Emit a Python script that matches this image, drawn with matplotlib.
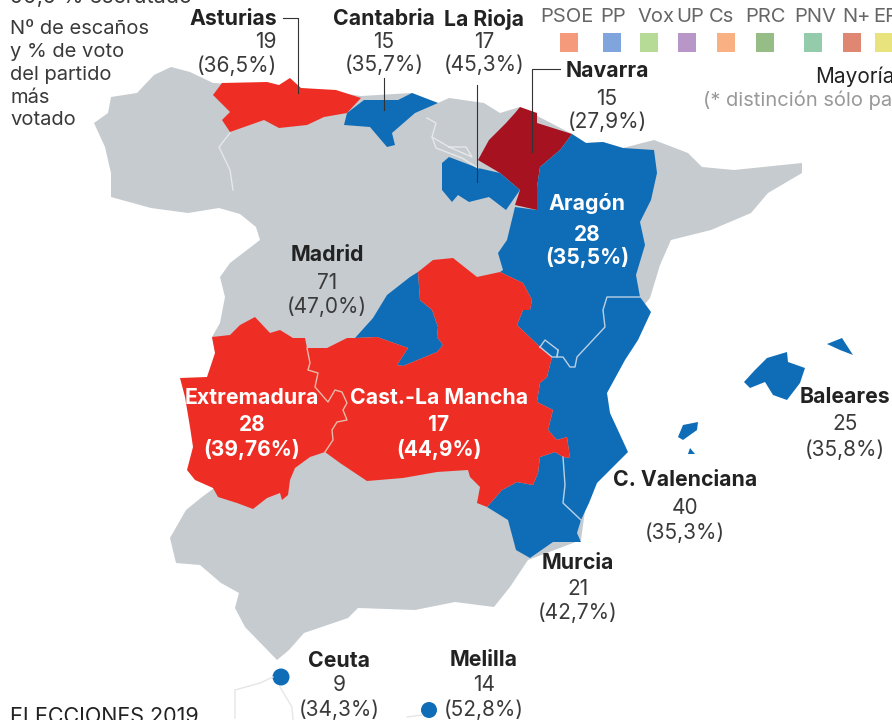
import matplotlib
matplotlib.use('Agg')
import matplotlib.pyplot as plt
from matplotlib.patches import Polygon, Ellipse, Rectangle

# Datos
regions = ['Asturias', 'Cantabria', 'La Rioja', 'Navarra', 'Aragón', 'Madrid', 'Extremadura',
           'Cast.-La Mancha', 'Baleares', 'C. Valenciana', 'Murcia', 'Ceuta', 'Melilla']
seats = ['19', '15', '17', '15', '28', '71', '28', '17', '25', '40', '21', '9', '14']
votes = ['(36,5%)', '(35,7%)', '(45,3%)', '(27,9%)', '(35,5%)', '(47,0%)', '(39,76%)',
         '(44,9%)', '(35,8%)', '(35,3%)', '(42,7%)', '(34,3%)', '(52,8%)']
parties = ['PSOE', 'PP', 'Vox', 'UP', 'Cs', 'PRC', 'PNV', 'N+', 'ERC']
party_colors = ['#F59A7B', '#7FA5DC', '#B5DB96', '#B896C8', '#F9B184', '#95BD85', '#94CBAB', '#E08773', '#E8E37D']
note_lines = ['Nº de escaños', 'y % de voto', 'del partido', 'más', 'votado']

# Contornos del mapa, en píxeles de la imagen
peninsula = [(171, 67), (190, 72), (213, 83), (300, 88), (361, 96), (412, 93), (438, 103), (449, 98), (484, 103),
             (500, 113), (520, 107), (572, 134), (586, 143), (603, 142), (623, 148), (654, 140), (688, 153),
             (702, 167), (734, 170), (802, 163), (802, 173), (768, 193), (751, 213), (711, 230), (671, 240),
             (660, 265), (650, 298), (640, 310), (600, 400), (581, 540), (528, 560), (510, 587), (494, 607),
             (455, 602), (415, 610), (358, 608), (348, 618), (304, 633), (289, 650), (277, 660), (245, 627),
             (235, 608), (239, 593), (221, 583), (200, 565), (176, 563), (170, 538), (186, 510), (202, 497),
             (225, 480), (225, 400), (212, 337), (220, 323), (225, 297), (220, 277), (230, 263), (260, 240),
             (256, 227), (240, 214), (219, 208), (188, 213), (151, 208), (111, 197), (111, 173), (105, 147),
             (94, 123), (108, 113), (111, 97), (137, 93), (154, 75)]
asturias = [(222, 83), (267, 82), (279, 85), (290, 78), (301, 88), (336, 90), (361, 98), (347, 113), (324, 117),
            (307, 125), (279, 128), (264, 120), (230, 132), (222, 120), (230, 112), (213, 95)]
cantabria = [(364, 100), (398, 100), (412, 93), (438, 103), (415, 113), (392, 133), (395, 145), (387, 147),
             (370, 127), (344, 125), (347, 113)]
navarra = [(520, 107), (537, 113), (537, 123), (572, 134), (560, 150), (540, 167), (537, 187), (537, 210),
           (515, 205), (520, 190), (500, 173), (478, 160), (489, 140), (506, 123), (515, 113)]
rioja = [(449, 157), (478, 168), (500, 173), (520, 190), (506, 210), (489, 197), (469, 202), (458, 195),
         (452, 202), (442, 190), (442, 163)]
aragon = [(572, 134), (586, 143), (603, 142), (623, 148), (654, 150), (657, 173), (651, 200), (640, 222),
          (645, 245), (636, 275), (640, 297), (607, 297), (603, 310), (605, 327), (577, 357), (575, 367),
          (570, 367), (563, 357), (557, 357), (558, 350), (545, 340), (540, 347), (517, 325), (523, 310),
          (530, 310), (532, 300), (523, 283), (500, 272), (503, 270), (498, 253), (507, 240), (515, 207),
          (537, 210), (537, 187), (540, 167), (560, 150)]
valencia = [(640, 297), (651, 312), (638, 340), (625, 360), (607, 393), (610, 413), (628, 452), (597, 483),
            (589, 503), (581, 520), (563, 503), (565, 485), (563, 457), (570, 458), (567, 437), (557, 440),
            (548, 430), (553, 410), (537, 402), (540, 383), (547, 377), (552, 357), (540, 347), (545, 340),
            (558, 350), (557, 357), (563, 357), (570, 367), (575, 367), (577, 357), (605, 327), (603, 310),
            (607, 297)]
murcia = [(487, 507), (502, 490), (517, 482), (533, 485), (538, 473), (540, 457), (555, 452), (563, 457),
          (565, 485), (563, 503), (581, 520), (577, 533), (581, 542), (553, 542), (530, 558), (516, 550),
          (508, 520)]
madrid = [(418, 272), (410, 277), (387, 295), (373, 318), (355, 338), (377, 337), (408, 348), (397, 365),
          (403, 366), (437, 352), (443, 345), (437, 337), (438, 327), (432, 310), (420, 300)]
clm = [(418, 272), (433, 260), (453, 258), (477, 277), (500, 272), (523, 283), (532, 300), (530, 310), (523, 310),
       (517, 325), (540, 347), (552, 357), (547, 377), (540, 383), (537, 402), (553, 410), (548, 430), (557, 440),
       (567, 437), (570, 458), (563, 457), (555, 452), (540, 457), (538, 473), (533, 485), (517, 482), (502, 490),
       (487, 507), (477, 503), (480, 487), (470, 477), (468, 470), (437, 472), (403, 478), (367, 481), (340, 463),
       (325, 452), (333, 440), (332, 430), (337, 422), (347, 420), (343, 410), (347, 403), (342, 392), (335, 390),
       (328, 402), (315, 387), (318, 373), (308, 370), (310, 363), (307, 348), (327, 348), (347, 338), (355, 338),
       (377, 337), (408, 348), (397, 365), (403, 366), (437, 352), (443, 345), (437, 337), (438, 327), (432, 310),
       (420, 300)]
extremadura = [(255, 317), (270, 333), (280, 330), (293, 338), (305, 338), (307, 348), (310, 363), (308, 370),
               (318, 373), (315, 387), (328, 402), (335, 390), (342, 392), (347, 403), (343, 410), (347, 420),
               (337, 422), (332, 430), (333, 440), (325, 452), (310, 457), (295, 468), (290, 480), (288, 495),
               (282, 500), (280, 493), (267, 498), (253, 509), (237, 503), (218, 497), (213, 488), (195, 480),
               (187, 470), (193, 447), (190, 427), (185, 397), (180, 378), (207, 377), (215, 353), (212, 337),
               (230, 335), (240, 325)]
mallorca = [(744, 382), (755, 370), (767, 358), (787, 352), (788, 362), (805, 368), (800, 383), (787, 400),
            (773, 395), (765, 382), (750, 388)]
menorca = [(827, 344), (842, 338), (853, 355), (840, 350)]
ibiza = [(678, 437), (683, 425), (698, 422), (697, 430), (683, 440)]
formentera = [(690, 448), (695, 454), (688, 454)]

# Fronteras interiores
border_ext_clm = extremadura[5:20]
border_val = valencia[-9:] + [(640, 297)]
border_rincon = [(540, 347), (545, 340), (558, 350), (557, 357), (552, 357), (540, 347)]
border_val_mur = [(563, 457), (565, 485), (563, 503), (581, 520)]
border_cyl = [(230, 133), (219, 147), (230, 170), (233, 190)]
border_pv = [(427, 118), (436, 123), (432, 137), (449, 147), (466, 147), (472, 157), (449, 147)]
border_alava = [(432, 137), (436, 148), (462, 158), (478, 168)]
morocco_a = [(235, 718), (235, 690), (260, 683), (273, 677)]
morocco_b = [(280, 687), (292, 707), (293, 720)]
morocco_c = [(407, 717), (422, 715)]

RED = '#EE2E24'
BLUE = '#0F6DB8'
DARK_RED = '#A61220'
GREY = '#C6CBCF'
TEXT = '#222222'
SOFT = '#3A3A3A'

plt.rcParams['font.family'] = ['Inter', 'DejaVu Sans']

fig = plt.figure(figsize=(8.92, 7.2), dpi=100)
ax = fig.add_axes([0, 0, 1, 1])
ax.set_xlim(0, 892)
ax.set_ylim(720, 0)
ax.axis('off')

ax.add_patch(Polygon(peninsula, closed=True, fc=GREY, ec='none'))
for shape, color in [(asturias, RED), (cantabria, BLUE), (navarra, DARK_RED), (rioja, BLUE), (aragon, BLUE),
                     (valencia, BLUE), (murcia, BLUE), (madrid, BLUE), (clm, RED), (extremadura, RED),
                     (mallorca, BLUE), (menorca, BLUE), (ibiza, BLUE), (formentera, BLUE)]:
    ax.add_patch(Polygon(shape, closed=True, fc=color, ec='none'))

for line, color in [(border_ext_clm, '#E8B9A8'), (border_val, '#B9D0E4'), (border_rincon, '#B9D0E4'),
                    (border_val_mur, '#B9D0E4'), (border_cyl, '#E6E8EA'), (border_pv, '#E6E8EA'),
                    (border_alava, '#E6E8EA'), (morocco_a, '#E4E6E8'), (morocco_b, '#E4E6E8'),
                    (morocco_c, '#E4E6E8')]:
    ax.plot([p[0] for p in line], [p[1] for p in line], color=color, lw=1.0)

ax.add_patch(Ellipse((281, 677), 17, 17, fc=BLUE, ec='none'))
ax.add_patch(Ellipse((429, 710), 16, 16, fc=BLUE, ec='none'))

# Líneas de las etiquetas
leaders = [[(283, 18), (298, 18), (298, 93)], [(384, 78), (384, 110)], [(477, 85), (477, 182)],
           [(560, 69), (532, 69), (532, 152)]]
for line in leaders:
    ax.plot([p[0] for p in line], [p[1] for p in line], color='#333333', lw=0.8)

# x, y del nombre, y escaños, y voto, alineación, color
label_layout = [
    (277, 19, 42, 66, 'right', TEXT),
    (384, 19, 42, 65, 'center', TEXT),
    (484, 19, 42, 65, 'center', TEXT),
    (607, 71, 99, 122, 'center', TEXT),
    (587, 204, 235, 258, 'center', 'white'),
    (327, 255, 283, 307, 'center', TEXT),
    (252, 398, 425, 449, 'center', 'white'),
    (439, 398, 425, 449, 'center', 'white'),
    (845, 397, 424, 450, 'center', TEXT),
    (685, 480, 508, 533, 'center', TEXT),
    (578, 563, 589, 613, 'center', TEXT),
    (339, 661, 685, 710, 'center', TEXT),
    (484, 660, 685, 710, 'center', TEXT),
]
for name, seat, vote, (x, y1, y2, y3, ha, color) in zip(regions, seats, votes, label_layout):
    white = color == 'white'
    num_color = 'white' if white else SOFT
    ax.text(x, y1, name, ha=ha, va='center', fontsize=15.3, fontweight='bold', color=color)
    ax.text(x, y2, seat, ha=ha, va='center', fontsize=15, color=num_color, fontweight='bold' if white else 'normal')
    ax.text(x, y3, vote, ha=ha, va='center', fontsize=15, color=num_color, fontweight='bold' if white else 'normal')

# Nota de la izquierda
for line, y in zip(note_lines, [29, 52, 75, 98, 120]):
    ax.text(10, y, line, ha='left', va='center', fontsize=14.5, color=SOFT)

# Leyenda
label_x = [540, 600, 637, 676, 709, 745, 794, 842, 873]
square_x = [560, 603, 640, 678, 717, 756, 804, 843, 875]
for party, color, lx, sx in zip(parties, party_colors, label_x, square_x):
    ax.text(lx, 17, party, ha='left', va='center', fontsize=14.5, color='#666666')
    ax.add_patch(Rectangle((sx, 33), 18, 19, fc=color, ec='none'))

ax.text(815, 77, 'Mayoría', ha='left', va='center', fontsize=15, color=TEXT)
ax.text(703, 100, '(* distinción sólo pa', ha='left', va='center', fontsize=14.5, color='#999999')

# Textos cortados por el borde
ax.text(10, -3, '99,9 % escrutado', ha='left', va='center', fontsize=15.5, color=SOFT)
ax.text(10, 717, 'ELECCIONES 2019', ha='left', va='center', fontsize=15.5, color=TEXT)

plt.savefig('out.png', dpi=100)
plt.close()
